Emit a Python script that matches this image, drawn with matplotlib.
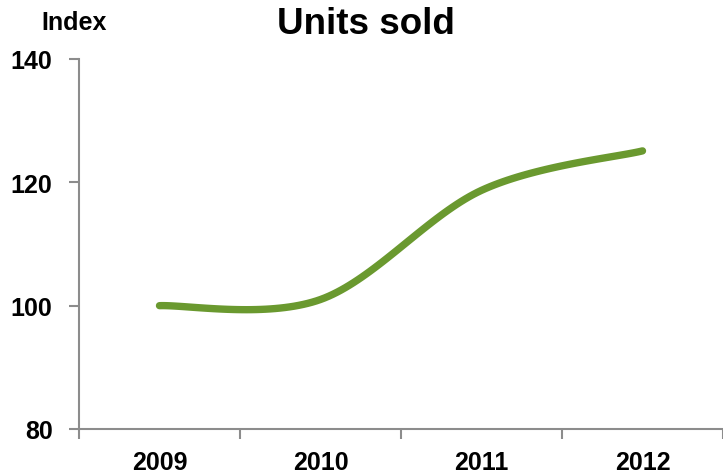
import numpy as np
import matplotlib
matplotlib.use("Agg")
import matplotlib.pyplot as plt

years = ["2009", "2010", "2011", "2012"]
units_index = [100.0, 101.0, 118.7, 125.1]

y_ticks = [80, 100, 120, 140]
line_color = "#6a992f"
axis_color = "#8c8c8c"


def smooth_curve(values, steps=40):
    """Excel-like smoothed line: cubic Bezier with Catmull-Rom control points"""
    pts = np.column_stack([np.arange(len(values)), values]).astype(float)
    padded = np.vstack([pts[0], pts, pts[-1]])
    xs, ys = [], []
    t = np.linspace(0, 1, steps)
    for i in range(len(pts) - 1):
        p0, p1, p2, p3 = padded[i], padded[i + 1], padded[i + 2], padded[i + 3]
        c1 = p1 + (p2 - p0) / 6
        c2 = p2 - (p3 - p1) / 6
        seg = ((1 - t) ** 3)[:, None] * p1 + (3 * (1 - t) ** 2 * t)[:, None] * c1 \
            + (3 * (1 - t) * t ** 2)[:, None] * c2 + (t ** 3)[:, None] * p2
        xs.extend(seg[:, 0])
        ys.extend(seg[:, 1])
    return xs, ys


plt.rcParams['font.family'] = ['Liberation Sans', 'DejaVu Sans']
plt.rcParams['font.weight'] = 'bold'

fig = plt.figure(figsize=(7.23, 4.77), dpi=100)
ax = fig.add_axes([79 / 723, 1 - 430 / 477, 1 - 79 / 723, (430 - 60) / 477])

sx, sy = smooth_curve(units_index)
ax.plot(sx, sy, color=line_color, linewidth=5.3, solid_capstyle='round')

ax.set_xlim(-0.5, len(years) - 0.5)
ax.set_ylim(y_ticks[0], y_ticks[-1])

# category boundaries get the tick marks, labels sit in the middle
ax.set_xticks(np.arange(len(years) + 1) - 0.5)
ax.set_xticklabels([])
ax.set_xticks(np.arange(len(years)), minor=True)
ax.set_xticklabels(years, minor=True, fontsize=18, fontweight='bold')
ax.tick_params(axis='x', which='major', length=7, width=1.5, color=axis_color)
ax.tick_params(axis='x', which='minor', length=0, pad=15)

ax.set_yticks(y_ticks)
ax.set_yticklabels([str(v) for v in y_ticks], fontsize=18, fontweight='bold')
ax.tick_params(axis='y', length=7, width=1.5, color=axis_color, pad=12)

for side in ['top', 'right']:
    ax.spines[side].set_visible(False)
for side in ['left', 'bottom']:
    ax.spines[side].set_color(axis_color)
    ax.spines[side].set_linewidth(1.5)

fig.text(366 / 723, 1 - 25 / 477, "Units sold", ha='center', va='center',
         fontsize=26.5, fontweight='bold')
fig.text(74 / 723, 1 - 23 / 477, "Index", ha='center', va='center',
         fontsize=18, fontweight='bold')

fig.savefig("out.png", dpi=100)
